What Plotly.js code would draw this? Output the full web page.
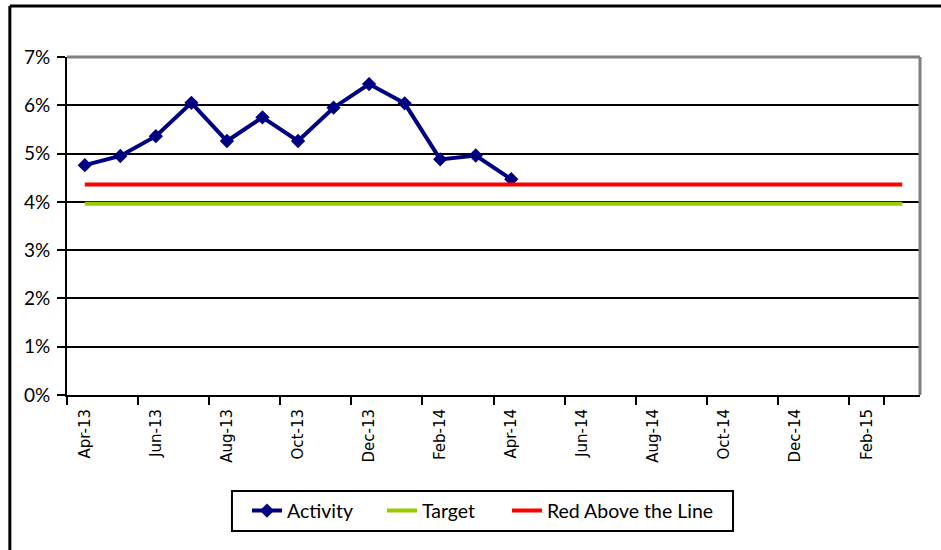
<!DOCTYPE html>
<html>
<head>
<meta charset="utf-8">
<script src="https://cdn.plot.ly/plotly-3.0.1.min.js"></script>
<style>
  html, body { margin: 0; padding: 0; background: #fff; }
  #chart { width: 941px; height: 550px; }
</style>
</head>
<body>
<div id="chart"></div>
<script>
var months = ["Apr-13", "May-13", "Jun-13", "Jul-13", "Aug-13", "Sep-13", "Oct-13", "Nov-13",
  "Dec-13", "Jan-14", "Feb-14", "Mar-14", "Apr-14", "May-14", "Jun-14", "Jul-14",
  "Aug-14", "Sep-14", "Oct-14", "Nov-14", "Dec-14", "Jan-15", "Feb-15", "Mar-15"];

// monthly activity rate (only filled up to Apr-14)
var activity = [0.0476, 0.0495, 0.0536, 0.0605, 0.0526, 0.0575, 0.0526, 0.0595,
  0.0644, 0.0604, 0.0488, 0.0496, 0.0447];

var targetValue = 0.0396;
var redLineValue = 0.0436;

var target = months.map(function () { return targetValue; });
var redLine = months.map(function () { return redLineValue; });

var shownMonths = months.filter(function (m, i) { return i % 2 === 0; });
var yTicks = [0, 0.01, 0.02, 0.03, 0.04, 0.05, 0.06, 0.07];

var data = [
  {
    type: "scatter", mode: "lines+markers", name: "Activity", legend: "legend",
    x: months.slice(0, activity.length), y: activity,
    line: { color: "#000080", width: 4 },
    marker: { symbol: "diamond", size: 11, color: "#000080" }
  },
  {
    type: "scatter", mode: "lines", name: "Target", legend: "legend2",
    x: months, y: target,
    line: { color: "#99CC00", width: 4 }
  },
  {
    type: "scatter", mode: "lines", name: "Red Above the Line", legend: "legend3",
    x: months, y: redLine,
    line: { color: "#FF0000", width: 4 }
  }
];

// one legend per entry so the entries can sit where the original put them
function legendAt(x) {
  return {
    orientation: "h", x: x, xanchor: "left", y: -0.343, yanchor: "middle",
    bgcolor: "rgba(0,0,0,0)", borderwidth: 0,
    font: { family: "Lato, sans-serif", size: 19.5, color: "#000" }
  };
}

var layout = {
  width: 941, height: 550,
  margin: { l: 67, r: 21, t: 57, b: 155 },
  paper_bgcolor: "#fff", plot_bgcolor: "#fff",
  showlegend: true,
  legend: legendAt(0.2110),
  legend2: legendAt(0.3693),
  legend3: legendAt(0.5158),
  xaxis: {
    type: "category",
    tickmode: "array", tickvals: shownMonths, ticktext: shownMonths,
    tickson: "boundaries",
    ticks: "outside", ticklen: 8, tickwidth: 2, tickcolor: "#000",
    tickangle: -90,
    tickfont: { family: "DejaVu Sans, sans-serif", size: 15, color: "#000" },
    ticklabelstandoff: 6,
    showline: true, linecolor: "#000", linewidth: 2,
    showgrid: false, zeroline: false,
    range: [-0.5, 23.5]
  },
  yaxis: {
    range: [0, 0.07],
    tickmode: "array", tickvals: yTicks, tickformat: ".0%",
    ticks: "outside", ticklen: 8, tickwidth: 2, tickcolor: "#000",
    tickfont: { family: "Lato, sans-serif", size: 19, color: "#000" },
    ticklabelstandoff: 3,
    showline: true, linecolor: "#000", linewidth: 2,
    showgrid: true, gridcolor: "#000", gridwidth: 2,
    zeroline: false
  },
  shapes: [
    // grey plot-area border, top and right
    { type: "line", xref: "paper", yref: "paper", x0: 0, x1: 1, y0: 1, y1: 1,
      line: { color: "#808080", width: 3 }, layer: "above" },
    { type: "line", xref: "paper", yref: "paper", x0: 1, x1: 1, y0: 0, y1: 1,
      line: { color: "#808080", width: 3 }, layer: "above" },
    // legend box
    { type: "rect", xref: "paper", yref: "paper", x0: 0.1934, x1: 0.7808, y0: -0.284, y1: -0.4024,
      line: { color: "#000", width: 2 }, layer: "above" },
    // outer chart frame (only left and top fall inside the picture)
    { type: "line", xref: "paper", yref: "paper", x0: -0.067, x1: 1.2, y0: 1.151, y1: 1.151,
      line: { color: "#000", width: 3 }, layer: "above" },
    { type: "line", xref: "paper", yref: "paper", x0: -0.067, x1: -0.067, y0: 1.151, y1: -0.6,
      line: { color: "#000", width: 3 }, layer: "above" }
  ]
};

var config = { displayModeBar: false, responsive: false, staticPlot: true };

Plotly.newPlot("chart", data, layout, config);
</script>
</body>
</html>
